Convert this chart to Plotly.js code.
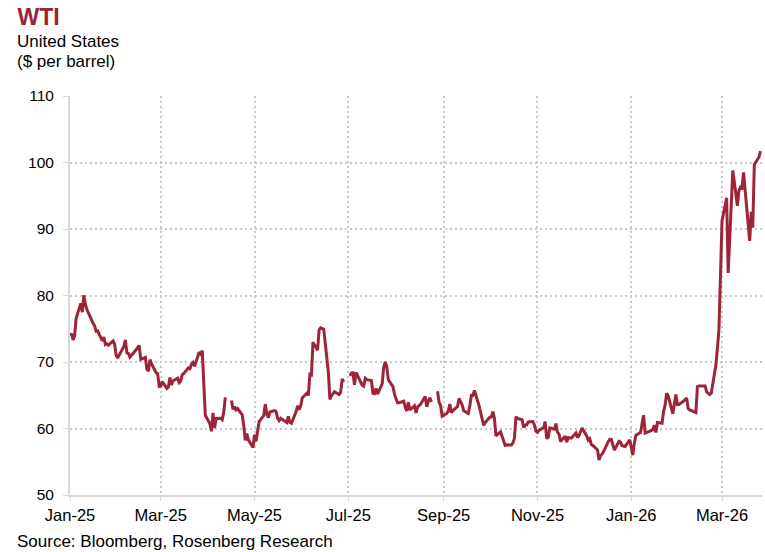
<!DOCTYPE html>
<html>
<head>
<meta charset="utf-8">
<script src="https://cdn.plot.ly/plotly-3.0.1.min.js"></script>
<style>html,body{margin:0;padding:0;background:#fff;}#chart{width:765px;height:552px;}</style>
</head>
<body>
<div id="chart"></div>
<script>
const dates = [
"2025-01-06","2025-01-07","2025-01-08","2025-01-09","2025-01-10","2025-01-13","2025-01-14","2025-01-15","2025-01-16","2025-01-17",
"2025-01-21","2025-01-22","2025-01-23","2025-01-24","2025-01-27","2025-01-28","2025-01-29","2025-01-30","2025-01-31",
"2025-02-03","2025-02-04","2025-02-05","2025-02-06","2025-02-07","2025-02-10","2025-02-11","2025-02-12","2025-02-13","2025-02-14",
"2025-02-18","2025-02-19","2025-02-20","2025-02-21","2025-02-24","2025-02-25","2025-02-26","2025-02-27","2025-02-28",
"2025-03-03","2025-03-04","2025-03-05","2025-03-06","2025-03-07","2025-03-10","2025-03-11","2025-03-12","2025-03-13","2025-03-14",
"2025-03-17","2025-03-18","2025-03-19","2025-03-20","2025-03-21","2025-03-24","2025-03-25","2025-03-26","2025-03-27","2025-03-28",
"2025-03-31","2025-04-01","2025-04-02","2025-04-03","2025-04-04","2025-04-07","2025-04-08","2025-04-09","2025-04-10","2025-04-11",
"2025-04-14","2025-04-15","2025-04-16","2025-04-17","2025-04-18","2025-04-21","2025-04-22","2025-04-23","2025-04-24","2025-04-25",
"2025-04-28","2025-04-29","2025-04-30","2025-05-01","2025-05-02","2025-05-05","2025-05-06","2025-05-07","2025-05-08","2025-05-09",
"2025-05-12","2025-05-13","2025-05-14","2025-05-15","2025-05-16","2025-05-19","2025-05-20","2025-05-21","2025-05-22","2025-05-23",
"2025-05-27","2025-05-28","2025-05-29","2025-05-30","2025-06-02","2025-06-03","2025-06-04","2025-06-05","2025-06-06",
"2025-06-09","2025-06-10","2025-06-11","2025-06-12","2025-06-13","2025-06-16","2025-06-17","2025-06-18","2025-06-20",
"2025-06-23","2025-06-24","2025-06-25","2025-06-26","2025-06-27","2025-06-30","2025-07-01","2025-07-02","2025-07-03","2025-07-04",
"2025-07-07","2025-07-08","2025-07-09","2025-07-10","2025-07-11","2025-07-14","2025-07-15","2025-07-16","2025-07-17","2025-07-18",
"2025-07-21","2025-07-22","2025-07-23","2025-07-24","2025-07-25","2025-07-28","2025-07-29","2025-07-30","2025-07-31","2025-08-01",
"2025-08-04","2025-08-05","2025-08-06","2025-08-07","2025-08-08","2025-08-11","2025-08-12","2025-08-13","2025-08-14","2025-08-15",
"2025-08-18","2025-08-19","2025-08-20","2025-08-21","2025-08-22","2025-08-25","2025-08-26","2025-08-27","2025-08-28","2025-08-29",
"2025-09-01","2025-09-02","2025-09-03","2025-09-04","2025-09-05","2025-09-08","2025-09-09","2025-09-10","2025-09-11","2025-09-12",
"2025-09-15","2025-09-16","2025-09-17","2025-09-18","2025-09-19","2025-09-22","2025-09-23","2025-09-24","2025-09-25","2025-09-26",
"2025-09-29","2025-09-30","2025-10-01","2025-10-02","2025-10-03","2025-10-06","2025-10-07","2025-10-08","2025-10-09","2025-10-10",
"2025-10-13","2025-10-14","2025-10-15","2025-10-16","2025-10-17","2025-10-20","2025-10-21","2025-10-22","2025-10-23","2025-10-24",
"2025-10-27","2025-10-28","2025-10-29","2025-10-30","2025-10-31","2025-11-03","2025-11-04","2025-11-05","2025-11-06","2025-11-07",
"2025-11-10","2025-11-11","2025-11-12","2025-11-13","2025-11-14","2025-11-17","2025-11-18","2025-11-19","2025-11-20","2025-11-21",
"2025-11-24","2025-11-25","2025-11-26","2025-11-28","2025-12-01","2025-12-02","2025-12-03","2025-12-04","2025-12-05",
"2025-12-08","2025-12-09","2025-12-10","2025-12-11","2025-12-12","2025-12-15","2025-12-16","2025-12-17","2025-12-18","2025-12-19",
"2025-12-22","2025-12-23","2025-12-24","2025-12-26","2025-12-29","2025-12-30","2025-12-31",
"2026-01-02","2026-01-05","2026-01-06","2026-01-07","2026-01-08","2026-01-09","2026-01-12","2026-01-13","2026-01-14","2026-01-15","2026-01-16",
"2026-01-20","2026-01-21","2026-01-22","2026-01-23","2026-01-26","2026-01-27","2026-01-28","2026-01-29","2026-01-30",
"2026-02-02","2026-02-03","2026-02-04","2026-02-05","2026-02-06","2026-02-09","2026-02-10","2026-02-11","2026-02-12","2026-02-13",
"2026-02-17","2026-02-18","2026-02-19","2026-02-20","2026-02-23","2026-02-24","2026-02-25","2026-02-26","2026-02-27",
"2026-03-02","2026-03-03","2026-03-04","2026-03-05","2026-03-06","2026-03-09","2026-03-10","2026-03-11","2026-03-12","2026-03-13",
"2026-03-16","2026-03-17","2026-03-18","2026-03-19","2026-03-20","2026-03-23","2026-03-24","2026-03-25","2026-03-26","2026-03-27",
"2026-03-30","2026-03-31"
];
const wti = [
74.0,74.25,73.32,73.92,76.57,78.82,77.50,80.04,78.68,77.88,
75.83,75.44,74.62,74.66,73.17,73.77,72.62,72.73,72.53,
73.16,72.70,71.03,70.61,71.00,72.32,73.32,71.37,71.29,70.74,
71.85,72.25,72.48,70.40,70.70,68.93,68.62,70.35,69.76,
68.37,68.26,66.31,66.36,67.04,66.03,66.25,67.68,66.55,67.18,
67.58,66.90,67.16,68.07,68.28,69.11,69.00,69.65,69.92,69.36,
71.48,71.20,71.71,66.95,61.99,60.70,59.58,62.35,60.07,61.50,
61.53,61.33,62.47,64.68,null,64.2,62.9,63.3,62.8,63.0,
62.05,60.42,58.21,59.24,58.29,57.13,59.09,58.07,59.91,61.02,
61.95,63.67,62.15,61.62,62.49,62.69,62.56,61.57,61.20,61.53,
60.89,61.84,60.94,60.79,62.52,63.41,62.85,63.37,64.58,
65.29,64.98,68.15,68.04,72.98,71.77,74.84,75.14,74.93,
68.51,64.37,64.92,65.24,65.52,65.11,65.45,67.45,67.00,null,
67.93,68.33,68.38,66.57,68.45,66.98,66.52,66.38,67.54,67.34,
67.20,65.31,65.25,66.03,65.16,66.71,69.21,70.00,69.26,67.33,
66.29,65.16,64.35,63.88,63.88,64.10,63.17,62.65,63.96,62.80,
63.42,62.35,63.21,63.52,63.66,64.80,63.25,64.15,64.60,64.01,
null,65.59,63.97,63.48,61.87,62.26,62.63,63.67,62.37,62.69,
63.30,64.52,64.05,63.57,62.68,62.28,63.41,64.99,64.98,65.72,
63.45,62.37,61.78,60.48,60.88,61.69,61.73,62.55,61.51,58.90,
59.49,58.70,58.27,57.46,57.54,57.52,57.82,58.50,61.79,61.50,
61.31,60.15,60.48,60.57,60.98,61.05,60.56,59.60,59.43,59.75,
60.13,61.04,58.49,58.69,60.09,59.91,60.74,59.44,59.14,58.06,
58.84,57.95,58.65,58.55,59.32,58.64,58.95,59.67,60.08,
58.88,58.25,58.46,57.60,57.44,56.82,55.27,55.94,56.15,56.52,
58.01,58.38,58.35,56.74,58.08,57.95,57.42,
57.3,58.3,57.1,56.0,57.8,59.0,59.4,60.8,62.0,59.3,59.4,
59.8,60.5,59.4,60.9,60.8,62.6,63.5,65.3,64.9,
62.2,63.4,65.1,63.6,63.6,64.1,64.4,64.6,63.0,62.8,
62.4,66.3,66.4,66.4,66.4,65.5,65.3,65.1,65.3,
69.5,72.0,74.9,83.0,91.2,94.7,83.4,88.5,94.0,98.8,
93.5,95.8,96.3,96.2,98.5,91.5,88.2,92.6,90.2,99.7,
100.8,101.7
];
const tickDates = ["2025-01-06","2025-03-06","2025-05-06","2025-07-06","2025-09-06","2025-11-06","2026-01-06","2026-03-06"];
const tickLabels = ["Jan-25","Mar-25","May-25","Jul-25","Sep-25","Nov-25","Jan-26","Mar-26"];
const yTicks = [50,60,70,80,90,100,110];

const FONT = "Liberation Sans, Arial, sans-serif";
const NARROW = "Liberation Sans Narrow, Arial Narrow, Liberation Sans, sans-serif";
const trace = {
  x: dates, y: wti, type: "scatter", mode: "lines",
  line: {color: "#9E2438", width: 3},
  connectgaps: false, hoverinfo: "x+y"
};
const layout = {
  width: 765, height: 552,
  margin: {l: 70, r: 3, t: 96, b: 57},
  paper_bgcolor: "#fff", plot_bgcolor: "#fff",
  showlegend: false,
  font: {family: FONT, size: 15, color: "#000"},
  title: {text: "<b>WTI</b>", x: 17.5/765, xanchor: "left", xref: "container",
          y: 1 - 17/552, yanchor: "middle", yref: "container",
          font: {family: FONT, size: 23, color: "#9B2335"}},
  xaxis: {
    type: "date", range: ["2025-01-06", "2026-04-01"],
    tickmode: "array", tickvals: tickDates, ticktext: tickLabels,
    showgrid: true, gridcolor: "#c8c8c8", griddash: "2px,3px", gridwidth: 2,
    showline: true, linecolor: "#d9d9d9", linewidth: 2,
    ticks: "outside", ticklen: 4, tickcolor: "#d9d9d9", tickwidth: 1,
    tickfont: {family: FONT, size: 16.5, color: "#000"},
    zeroline: false, fixedrange: true
  },
  yaxis: {
    range: [50, 110], tickmode: "array", tickvals: yTicks,
    showgrid: true, gridcolor: "#c8c8c8", griddash: "2px,3px", gridwidth: 2,
    showline: true, linecolor: "#d9d9d9", linewidth: 2,
    ticks: "outside", ticklen: 5, tickcolor: "#d9d9d9", tickwidth: 1,
    ticklabelstandoff: 6,
    tickfont: {family: NARROW, size: 15.5, color: "#000"},
    zeroline: false, fixedrange: true
  },
  annotations: [
    {text: "United States", xref: "paper", yref: "paper", x: (15 - 70)/692, y: (495 - 42)/399,
     xanchor: "left", yanchor: "middle", showarrow: false, font: {family: FONT, size: 17, color: "#000"}},
    {text: "($ per barrel)", xref: "paper", yref: "paper", x: (15 - 70)/692, y: (495 - 62)/399,
     xanchor: "left", yanchor: "middle", showarrow: false, font: {family: FONT, size: 17, color: "#000"}},
    {text: "Source: Bloomberg, Rosenberg Research", xref: "paper", yref: "paper", x: (15 - 70)/692, y: (495 - 541)/399,
     xanchor: "left", yanchor: "middle", showarrow: false, font: {family: FONT, size: 17, color: "#000"}}
  ]
};
Plotly.newPlot("chart", [trace], layout, {displayModeBar: false, staticPlot: true});
</script>
</body>
</html>
